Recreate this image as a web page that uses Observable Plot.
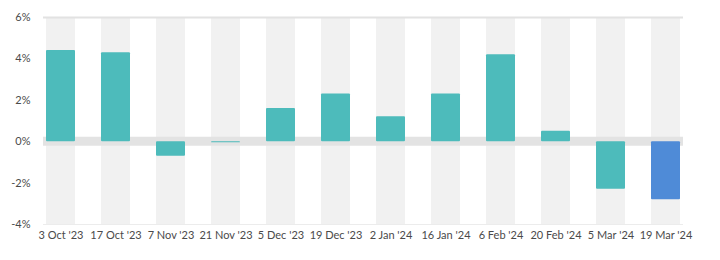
<!DOCTYPE html>
<html>
<head>
<meta charset="utf-8">
<script src="https://cdn.jsdelivr.net/npm/d3@7"></script>
<script src="https://cdn.jsdelivr.net/npm/@observablehq/plot@0.6"></script>
<style>
  html, body { margin: 0; padding: 0; background: #fff; }
  #chart svg { display: block; }
</style>
</head>
<body>
<div id="chart"></div>
<script>
const dates = ["3 Oct '23", "17 Oct '23", "7 Nov '23", "21 Nov '23", "5 Dec '23", "19 Dec '23", "2 Jan '24", "16 Jan '24", "6 Feb '24", "20 Feb '24", "5 Mar '24", "19 Mar '24"];
const values = [4.4, 4.3, -0.7, -0.05, 1.6, 2.3, 1.2, 2.3, 4.2, 0.5, -2.3, -2.8];
const yTicks = [-4, -2, 0, 2, 4, 6];

const data = dates.map((d, i) => ({date: d, value: values[i], last: i === dates.length - 1}));

const chart = Plot.plot({
  width: 720,
  height: 260,
  marginLeft: 43,
  marginRight: 37,
  marginTop: 17,
  marginBottom: 36,
  style: {fontFamily: "Lato, 'Open Sans', sans-serif", fontSize: "11px", color: "#4a4a4a", background: "#fff"},
  x: {domain: dates, paddingInner: 0.48, paddingOuter: 0, label: null, tickSize: 0, tickPadding: 7},
  y: {domain: [-4, 6], ticks: yTicks, tickFormat: d => d + "%", label: null, tickSize: 0, tickPadding: 13},
  marks: [
    Plot.barY(dates, {x: d => d, y1: -4, y2: 6, fill: "#f1f1f1"}),
    Plot.ruleY([0.02], {stroke: "#e3e3e3", strokeWidth: 9}),
    Plot.ruleY([6], {stroke: "#e2e2e2", strokeWidth: 2}),
    Plot.ruleY([-4], {stroke: "#ececec", strokeWidth: 1}),
    Plot.barY(data, {x: "date", y: "value", fill: d => d.last ? "#4f8bd7" : "#4dbbbb", rx: 1})
  ]
});
document.getElementById("chart").appendChild(chart);
</script>
</body>
</html>
